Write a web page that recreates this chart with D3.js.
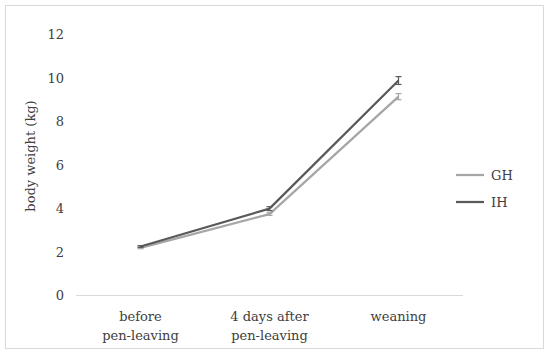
<!DOCTYPE html>
<html>
<head>
<meta charset="utf-8">
<script src="https://cdn.jsdelivr.net/npm/d3@7"></script>
<style>
  body { margin: 0; background: #fff; }
</style>
</head>
<body>
<div id="chart"></div>
<script>
// data
var categories = ["before\npen-leaving", "4 days after\npen-leaving", "weaning"];
var seriesNames = ["GH", "IH"];
var ghValues = [2.17, 3.72, 9.12];
var ghErrors = [0.04, 0.06, 0.14];
var ihValues = [2.23, 3.97, 9.86];
var ihErrors = [0.04, 0.09, 0.18];
var yTicks = [0, 2, 4, 6, 8, 10, 12];
var colors = ["#a6a6a6", "#595959"];

var FONT = "'DejaVu Serif', 'Liberation Serif', serif";
var FS = 13;

var W = 550, H = 354;
var svg = d3.select("#chart").append("svg")
  .attr("width", W).attr("height", H)
  .attr("font-family", FONT);

// outer frame
svg.append("rect")
  .attr("x", 5.5).attr("y", 5.5)
  .attr("width", 538).attr("height", 343)
  .attr("fill", "white").attr("stroke", "#d9d9d9").attr("stroke-width", 1);

var x = d3.scaleBand().domain(categories).range([76, 463]);
var y = d3.scaleLinear().domain([0, 12]).range([295, 34]);

// y axis: labels only
var yAxis = svg.append("g")
  .attr("transform", "translate(64,0)")
  .call(d3.axisLeft(y).tickValues(yTicks).tickSize(0).tickPadding(0));
yAxis.attr("font-family", FONT).attr("font-size", FS);
yAxis.select(".domain").remove();
yAxis.selectAll("text").attr("fill", "#404040").attr("dy", "0.35em");

// baseline
svg.append("line")
  .attr("x1", 76).attr("x2", 463)
  .attr("y1", y(0) + 0.5).attr("y2", y(0) + 0.5)
  .attr("stroke", "#d9d9d9").attr("stroke-width", 1);

// x category labels (two lines)
var xl = svg.selectAll(".xlab").data(categories).enter().append("text")
  .attr("class", "xlab")
  .attr("text-anchor", "middle")
  .attr("font-size", FS)
  .attr("fill", "#404040")
  .attr("x", function(d) { return x(d) + x.bandwidth() / 2; })
  .attr("y", 321);
xl.each(function(d) {
  var lines = d.split("\n");
  var t = d3.select(this);
  lines.forEach(function(l, i) {
    t.append("tspan")
      .attr("x", x(d) + x.bandwidth() / 2)
      .attr("dy", i == 0 ? 0 : 19)
      .text(l);
  });
});

// y title
svg.append("text")
  .attr("transform", "translate(35," + 156 + ") rotate(-90)")
  .attr("text-anchor", "middle")
  .attr("font-size", FS)
  .attr("fill", "#404040")
  .text("body weight (kg)");

var series = [
  { name: seriesNames[0], values: ghValues, errors: ghErrors, color: colors[0] },
  { name: seriesNames[1], values: ihValues, errors: ihErrors, color: colors[1] }
];

var line = d3.line()
  .x(function(d, i) { return x(categories[i]) + x.bandwidth() / 2; })
  .y(function(d) { return y(d); });

series.forEach(function(s) {
  svg.append("path")
    .datum(s.values)
    .attr("d", line)
    .attr("fill", "none")
    .attr("stroke", s.color)
    .attr("stroke-width", 2.25)
    .attr("stroke-linejoin", "round");

  // error bars
  var g = svg.append("g").attr("stroke", s.color).attr("stroke-width", 1.2);
  s.values.forEach(function(v, i) {
    var cx = x(categories[i]) + x.bandwidth() / 2;
    var e = s.errors[i];
    g.append("line").attr("x1", cx).attr("x2", cx)
      .attr("y1", y(v + e)).attr("y2", y(v - e));
    g.append("line").attr("x1", cx - 3).attr("x2", cx + 3)
      .attr("y1", y(v + e)).attr("y2", y(v + e));
    g.append("line").attr("x1", cx - 3).attr("x2", cx + 3)
      .attr("y1", y(v - e)).attr("y2", y(v - e));
  });
});

// legend
var legend = svg.selectAll(".leg").data(series).enter().append("g")
  .attr("class", "leg")
  .attr("transform", function(d, i) { return "translate(456," + (175 + i * 27) + ")"; });
legend.append("line")
  .attr("x1", 0).attr("x2", 28).attr("y1", 0).attr("y2", 0)
  .attr("stroke", function(d) { return d.color; })
  .attr("stroke-width", 2.25);
legend.append("text")
  .attr("x", 35).attr("y", 0).attr("dy", "0.35em")
  .attr("font-size", FS)
  .attr("fill", "#404040")
  .text(function(d) { return d.name; });
</script>
</body>
</html>
